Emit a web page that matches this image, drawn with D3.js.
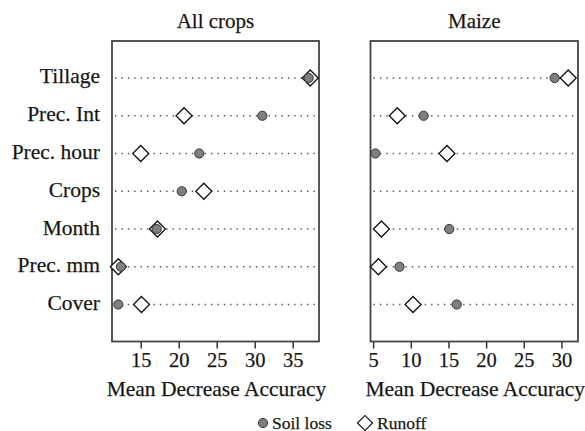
<!DOCTYPE html>
<html lang="en">
<head>
    <meta charset="UTF-8">
    <title>Mean Decrease Accuracy</title>
    <script src="https://d3js.org/d3.v7.min.js"></script>
    <style>
        body {
            margin: 0;
            background: white;
        }
        svg text {
            font-family: "Liberation Serif", "Times New Roman", serif;
            fill: #111;
            stroke: #333;
            stroke-width: 0.25px;
        }
        .panel-title { font-family: "Liberation Serif", serif; font-size: 21px; text-anchor: middle; }
        .row-label { font-family: "Liberation Serif", serif; font-size: 21.5px; text-anchor: end; }
        .axis-title { font-family: "Liberation Serif", serif; font-size: 21.5px; text-anchor: middle; }
        .tick-label { font-family: "Liberation Serif", serif; font-size: 20.5px; text-anchor: middle; }
        .legend-label { font-family: "Liberation Serif", serif; font-size: 17.5px; }
    </style>
</head>
<body>
    <svg id="chart"></svg>

    <script>
        const variables = ["Tillage", "Prec. Int", "Prec. hour", "Crops", "Month", "Prec. mm", "Cover"];

        const allSoil   = [37.1, 31.0, 22.7, 20.4, 17.1, 12.4, 12.05];
        const allRunoff = [37.3, 20.7, 15.0, 23.3, 17.2, 12.05, 15.1];

        const maizeSoil   = [29.1, 11.7, 5.3, null, 15.1, 8.5, 16.1];
        const maizeRunoff = [30.9, 8.2, 14.8, null, 6.1, 5.7, 10.3];

        const allTicks = [15, 20, 25, 30, 35];
        const maizeTicks = [5, 10, 15, 20, 25, 30];

        const width = 585, height = 431;
        const svg = d3.select("#chart").attr("width", width).attr("height", height);

        const plotTop = 41, plotBottom = 341.5;

        const y = d3.scalePoint()
            .domain(variables)
            .range([plotTop, plotBottom])
            .padding(0.98);

        const panels = [
            { title: "All crops", x0: 112, x1: 319, domain: [11.22, 38.46], ticks: allTicks, soil: allSoil, runoff: allRunoff, labels: true },
            { title: "Maize", x0: 370.5, x1: 578, domain: [4.65, 32.2], ticks: maizeTicks, soil: maizeSoil, runoff: maizeRunoff, labels: false }
        ];

        const diamond = d3.symbol().type(d3.symbolSquare).size(128);

        panels.forEach(p => {
            const x = d3.scaleLinear().domain(p.domain).range([p.x0, p.x1]);
            const g = svg.append("g");

            // dotted guide lines
            g.selectAll(".guide")
                .data(variables)
                .enter().append("line")
                .attr("x1", p.x0 + 3)
                .attr("x2", p.x1 - 3)
                .attr("y1", d => y(d))
                .attr("y2", d => y(d))
                .attr("stroke", "#555")
                .attr("stroke-width", 1.4)
                .attr("stroke-dasharray", "1.4,5");

            // bottom axis
            const axis = g.append("g")
                .attr("transform", `translate(0,${plotBottom})`)
                .call(d3.axisBottom(x).tickValues(p.ticks).tickSize(7).tickPadding(4));
            axis.attr("font-size", null).attr("font-family", null);
            axis.select(".domain").remove();
            axis.selectAll(".tick line").attr("stroke", "#333").attr("stroke-width", 1.5);
            axis.selectAll(".tick text")
                .attr("class", "tick-label")
                .attr("fill", null);

            // frame
            g.append("rect")
                .attr("x", p.x0)
                .attr("y", plotTop)
                .attr("width", p.x1 - p.x0)
                .attr("height", plotBottom - plotTop)
                .attr("fill", "none")
                .attr("stroke", "#444")
                .attr("stroke-width", 1.8);

            // runoff diamonds first, soil circles on top
            const runoffData = variables.map((v, i) => ({ v, value: p.runoff[i] })).filter(d => d.value != null);
            const soilData = variables.map((v, i) => ({ v, value: p.soil[i] })).filter(d => d.value != null);

            g.selectAll(".runoff")
                .data(runoffData)
                .enter().append("path")
                .attr("d", diamond)
                .attr("transform", d => `translate(${x(d.value)},${y(d.v)}) rotate(45)`)
                .attr("fill", "white")
                .attr("stroke", "#111")
                .attr("stroke-width", 1.3);

            g.selectAll(".soil")
                .data(soilData)
                .enter().append("circle")
                .attr("cx", d => x(d.value))
                .attr("cy", d => y(d.v))
                .attr("r", 4.6)
                .attr("fill", "#7f7f7f")
                .attr("stroke", "#333")
                .attr("stroke-width", 1);

            g.append("text")
                .attr("class", "panel-title")
                .attr("x", (p.x0 + p.x1) / 2)
                .attr("y", 28)
                .text(p.title);

            g.append("text")
                .attr("class", "axis-title")
                .attr("x", (p.x0 + p.x1) / 2 + 1)
                .attr("y", 396)
                .text("Mean Decrease Accuracy");

            if (p.labels) {
                g.selectAll(".row-label")
                    .data(variables)
                    .enter().append("text")
                    .attr("class", "row-label")
                    .attr("x", 100)
                    .attr("y", d => y(d))
                    .attr("dy", 5.5)
                    .text(d => d);
            }
        });

        // legend
        const legend = svg.append("g").attr("transform", "translate(0,423)");
        legend.append("circle")
            .attr("cx", 263).attr("cy", 0).attr("r", 4.6)
            .attr("fill", "#7f7f7f").attr("stroke", "#333");
        legend.append("text")
            .attr("class", "legend-label")
            .attr("x", 272).attr("y", 0).attr("dy", 5.5)
            .text("Soil loss");
        legend.append("path")
            .attr("d", d3.symbol().type(d3.symbolSquare).size(112)())
            .attr("transform", "translate(365,0) rotate(45)")
            .attr("fill", "white").attr("stroke", "#111").attr("stroke-width", 1.2);
        legend.append("text")
            .attr("class", "legend-label")
            .attr("x", 377).attr("y", 0).attr("dy", 5.5)
            .text("Runoff");
    </script>
</body>
</html>
